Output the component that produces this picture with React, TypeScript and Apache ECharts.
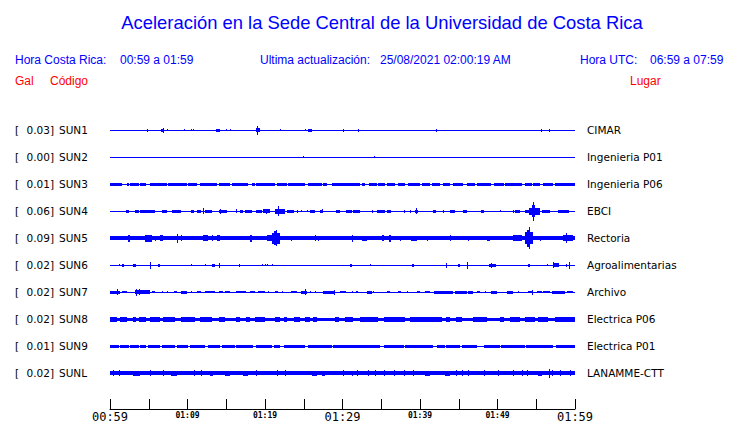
import React, { useEffect, useRef } from "react";
import * as echarts from "echarts";

// ---------- DATA ----------
const TITLE = "Aceleración en la Sede Central de la Universidad de Costa Rica";
const TICK_LABELS = ["00:59", "01:09", "01:19", "01:29", "01:39", "01:49", "01:59"]; // every 10 minutes
const TRACE_CODES = ["SUN1", "SUN2", "SUN3", "SUN4", "SUN5", "SUN6", "SUN7", "SUN8", "SUN9", "SUNL"];
const PEAK_GAL = ["0.03", "0.00", "0.01", "0.06", "0.09", "0.02", "0.02", "0.02", "0.01", "0.02"];
const PLACES = [
  "CIMAR", "Ingenieria P01", "Ingenieria P06", "EBCI", "Rectoria",
  "Agroalimentarias", "Archivo", "Electrica P06", "Electrica P01", "LANAMME-CTT",
];
// background (noise) half-amplitude of each trace, relative units
const BASE_AMP = [0.5, 0.5, 0.5, 0.5, 2.0, 0.5, 0.6, 1.6, 0.5, 2.0];

// bursts: [start minute, end minute, half-amplitude] (minutes after 00:59)
const SUN1_BURSTS = [
  [4.8, 4.8, 1.3], [6.6, 7.0, 1.5], [6.9, 6.9, 2.7], [7.4, 7.4, 1.2], [9.5, 9.5, 1.2],
  [10.4, 10.4, 1.2], [10.7, 10.7, 1.2], [13.7, 14.2, 1.5], [15.0, 15.0, 1.2], [15.5, 15.5, 1.2],
  [18.8, 19.3, 2.0], [19.0, 19.0, 4.5], [21.9, 21.9, 1.0], [25.2, 25.2, 1.2], [25.6, 26.0, 1.4],
  [30.1, 30.1, 1.5], [32.0, 32.0, 1.3], [42.1, 42.1, 1.3], [55.6, 55.6, 1.3], [56.6, 56.8, 1.5],
];
const SUN2_BURSTS = [[24.9, 24.9, 1.2], [34.0, 34.0, 1.2]];
const SUN3_BURSTS = [
  [0.0, 1.5, 1.5], [2.2, 2.4, 1.5], [2.6, 3.7, 1.5], [3.9, 4.7, 1.5], [5.2, 7.3, 1.5],
  [7.5, 9.9, 1.5], [10.1, 11.2, 1.5], [11.6, 13.8, 1.5], [14.0, 15.5, 1.5], [15.7, 17.8, 1.5],
  [18.3, 18.7, 1.5], [18.9, 21.3, 1.5], [21.5, 22.8, 1.5], [23.0, 25.2, 1.5], [25.6, 27.3, 1.5],
  [27.5, 28.0, 1.5], [28.6, 32.2, 1.5], [32.5, 32.9, 1.5], [33.4, 34.4, 1.5], [34.6, 35.5, 1.5],
  [35.7, 36.8, 1.5], [37.2, 38.1, 1.5], [38.5, 40.0, 1.5], [40.2, 41.3, 1.5], [41.5, 42.6, 1.5],
  [43.0, 43.9, 1.5], [44.3, 45.6, 1.5], [46.0, 47.1, 1.5], [47.3, 49.2, 1.5], [49.5, 50.8, 1.5],
  [51.0, 53.1, 1.5], [53.5, 54.4, 1.5], [54.6, 55.5, 1.5], [55.9, 57.2, 1.5], [57.4, 60.0, 1.5],
];
const SUN4_BURSTS = [
  [2.0, 2.5, 1.5], [3.2, 3.7, 1.5], [3.9, 5.8, 1.5], [6.7, 7.3, 1.5], [8.0, 9.2, 1.5],
  [10.5, 10.9, 1.5], [11.2, 11.8, 1.5], [12.0, 12.0, 3.0], [12.3, 13.1, 1.5], [14.0, 15.1, 1.5],
  [14.2, 14.2, 2.5], [16.3, 16.3, 2.0], [16.8, 17.2, 1.5], [17.4, 18.3, 1.5], [18.9, 19.6, 1.5],
  [19.8, 20.6, 2.0], [20.1, 20.1, 2.5], [21.3, 22.6, 2.5], [21.7, 21.7, 5.0], [22.8, 23.7, 1.5],
  [24.1, 24.3, 1.5], [24.7, 24.7, 1.2], [25.4, 25.4, 1.2], [25.8, 26.5, 1.5], [27.1, 27.5, 1.5],
  [27.3, 27.3, 2.0], [29.2, 29.7, 1.5], [30.5, 31.2, 1.5], [31.4, 32.3, 1.5], [33.8, 33.8, 1.3],
  [34.4, 35.5, 1.5], [35.7, 36.3, 1.5], [37.9, 37.9, 1.3], [38.7, 38.7, 1.3], [39.3, 39.8, 1.5],
  [39.5, 39.5, 3.0], [41.7, 42.1, 1.5], [43.0, 43.0, 1.3], [43.9, 44.5, 1.5], [45.6, 46.0, 1.5],
  [47.9, 48.2, 1.5], [50.3, 50.3, 1.2], [52.0, 52.0, 1.3], [52.2, 52.9, 1.5], [53.5, 54.2, 1.5],
  [54.0, 55.5, 3.5], [54.4, 54.9, 6.0], [54.6, 54.6, 9.5], [55.7, 56.8, 1.5], [57.8, 59.2, 1.5],
];
const SUN5_BURSTS = [
  [2.3, 2.6, 3.5], [4.5, 5.4, 3.5], [5.8, 5.8, 2.5], [6.5, 6.9, 3.0], [8.7, 8.7, 4.5],
  [9.2, 9.2, 3.0], [12.0, 12.7, 3.0], [13.1, 13.1, 3.0], [13.8, 14.2, 3.0], [18.1, 18.3, 3.5],
  [20.2, 20.9, 3.0], [20.9, 21.9, 5.5], [21.2, 21.6, 7.0], [21.4, 21.4, 8.0], [23.4, 23.4, 2.5],
  [26.5, 26.5, 3.0], [26.9, 26.9, 2.5], [31.2, 31.2, 3.5], [32.5, 33.1, 2.5], [35.1, 35.3, 3.0],
  [36.0, 36.3, 3.5], [37.4, 37.4, 2.5], [38.9, 39.6, 2.5], [40.9, 40.9, 2.5], [43.9, 43.9, 3.0],
  [46.2, 46.2, 2.5], [48.6, 49.0, 2.5], [52.0, 53.1, 3.0], [53.5, 54.6, 6.0], [53.8, 54.2, 8.5],
  [54.0, 54.0, 11.0], [55.5, 55.5, 2.5], [58.5, 59.7, 3.0], [58.9, 58.9, 5.0],
];
const SUN6_BURSTS = [
  [1.1, 1.1, 1.0], [1.5, 1.8, 1.5], [3.0, 3.3, 1.5], [5.2, 5.2, 3.5], [6.2, 6.5, 1.5],
  [10.4, 10.4, 1.2], [12.2, 12.2, 1.0], [13.1, 13.5, 1.5], [14.0, 14.0, 2.5], [16.6, 16.8, 1.5],
  [19.6, 19.6, 1.2], [20.0, 20.0, 0.8], [20.3, 20.3, 0.8], [20.9, 20.9, 1.2], [31.0, 31.2, 1.5],
  [33.5, 33.5, 1.0], [39.0, 39.2, 1.5], [43.4, 43.4, 2.5], [44.9, 45.1, 1.5], [46.1, 46.1, 3.5],
  [48.9, 49.8, 1.5], [49.2, 49.2, 2.5], [53.9, 54.2, 1.5], [56.4, 56.4, 1.0], [57.2, 57.9, 2.0],
  [57.2, 57.2, 3.0], [58.8, 58.8, 1.5], [59.2, 59.2, 3.5],
];
const SUN7_BURSTS = [
  [0.0, 1.3, 1.5], [0.9, 0.9, 3.0], [1.5, 2.2, 1.0], [3.2, 5.2, 1.8], [3.4, 3.4, 3.5],
  [3.7, 3.7, 3.0], [5.4, 5.8, 1.2], [6.7, 6.7, 1.0], [7.3, 7.3, 1.0], [8.2, 8.6, 1.0],
  [9.2, 9.9, 1.3], [10.5, 10.5, 1.0], [11.2, 11.8, 1.0], [12.3, 13.5, 1.2], [14.0, 14.6, 1.2],
  [14.8, 15.5, 1.0], [16.3, 17.6, 1.2], [18.1, 18.7, 1.2], [19.1, 20.0, 1.2], [20.4, 20.4, 1.0],
  [21.3, 21.7, 1.0], [22.2, 22.2, 1.0], [23.4, 24.1, 1.2], [24.7, 25.4, 1.5], [25.1, 25.1, 3.0],
  [25.8, 25.8, 1.0], [26.5, 26.5, 1.0], [27.5, 29.0, 1.3], [28.9, 28.9, 2.5], [29.7, 30.5, 1.2],
  [31.2, 31.4, 1.0], [31.8, 32.0, 1.0], [33.1, 33.8, 1.3], [33.9, 33.9, 1.0], [35.7, 36.1, 1.2],
  [37.2, 37.6, 1.0], [38.3, 38.3, 1.0], [39.6, 40.0, 1.0], [40.6, 41.3, 1.0], [41.8, 44.3, 1.3],
  [44.5, 46.0, 1.3], [46.2, 46.9, 1.3], [47.4, 47.8, 1.0], [48.4, 48.4, 1.0], [49.2, 49.9, 1.3],
  [51.2, 52.0, 1.3], [52.7, 52.7, 1.0], [53.9, 54.6, 1.2], [54.4, 54.4, 2.5], [55.1, 55.7, 1.0],
  [55.9, 56.8, 1.2], [57.0, 58.7, 1.3], [59.0, 59.8, 1.0],
];
const SUN8_BURSTS = [
  [0.0, 0.9, 2.6], [1.3, 2.2, 2.5], [3.0, 3.4, 2.6], [3.7, 4.7, 2.6], [5.2, 6.5, 2.6],
  [6.9, 8.4, 2.6], [9.2, 11.0, 2.6], [11.6, 13.1, 2.6], [14.0, 14.8, 2.3], [16.3, 16.8, 2.6],
  [17.6, 18.1, 2.3], [18.7, 20.0, 2.6], [21.3, 21.9, 2.3], [22.4, 22.8, 2.3], [23.7, 24.5, 2.3],
  [25.2, 25.8, 2.3], [26.2, 26.7, 2.3], [29.0, 29.5, 2.3], [30.3, 31.4, 2.3], [32.3, 34.6, 2.6],
  [35.3, 38.1, 2.6], [38.7, 42.8, 2.6], [43.4, 43.9, 2.3], [44.7, 45.4, 2.3], [46.9, 48.6, 2.3],
  [50.3, 50.9, 2.3], [51.6, 52.9, 2.3], [53.5, 54.8, 2.3], [55.2, 56.5, 2.3], [57.4, 60.0, 2.5],
];
const SUN9_BURSTS = [
  [0.0, 1.1, 1.4], [1.3, 2.4, 1.4], [2.6, 3.7, 1.4], [3.9, 4.7, 1.4], [4.9, 6.5, 1.4],
  [6.7, 8.4, 1.4], [8.6, 10.1, 1.4], [10.3, 12.3, 1.4], [12.7, 14.2, 1.4], [14.4, 16.1, 1.4],
  [16.3, 18.5, 1.4], [18.9, 20.9, 1.4], [21.1, 21.9, 1.4], [22.4, 25.2, 1.4], [25.6, 28.6, 1.4],
  [28.8, 34.8, 1.4], [35.3, 37.9, 1.4], [38.1, 41.7, 1.4], [42.2, 43.2, 1.4], [43.4, 45.2, 1.4],
  [45.4, 47.3, 1.4], [48.2, 50.3, 1.4], [50.5, 53.5, 1.4], [53.7, 57.2, 1.4], [57.6, 60.0, 1.4],
];
const SUNL_BURSTS = [
  [0.4, 0.4, 2.8], [1.1, 1.1, 2.8], [3.0, 3.9, 2.6], [5.2, 5.2, 2.8], [6.9, 6.9, 2.8],
  [7.9, 8.6, 2.6], [10.8, 10.8, 2.8], [11.8, 11.8, 2.8], [12.9, 13.3, 2.6], [14.8, 15.5, 2.6],
  [17.2, 17.8, 2.6], [18.9, 18.9, 2.8], [21.5, 21.5, 2.8], [22.6, 22.6, 2.8], [26.0, 26.7, 2.6],
  [27.3, 27.7, 2.6], [30.1, 30.1, 2.8], [31.2, 31.4, 2.6], [31.9, 31.9, 2.8], [33.3, 33.3, 2.8],
  [34.2, 34.2, 2.8], [35.3, 35.3, 2.8], [36.6, 36.6, 2.8], [37.9, 37.9, 2.8], [39.1, 39.1, 2.8],
  [40.6, 41.3, 2.6], [43.2, 43.9, 2.6], [44.7, 44.7, 2.8], [45.4, 45.4, 2.8], [46.2, 46.2, 2.8],
  [48.2, 48.2, 2.8], [50.1, 50.1, 2.8], [52.0, 52.0, 2.8], [53.1, 53.1, 2.8], [53.8, 53.8, 2.8],
  [55.2, 55.7, 2.6], [56.6, 56.6, 4.5], [57.0, 57.0, 2.8], [58.1, 58.1, 2.8], [59.4, 59.4, 2.8],
];
const BURSTS = [
  SUN1_BURSTS, SUN2_BURSTS, SUN3_BURSTS, SUN4_BURSTS, SUN5_BURSTS,
  SUN6_BURSTS, SUN7_BURSTS, SUN8_BURSTS, SUN9_BURSTS, SUNL_BURSTS,
];

// ---------- STYLE ----------
const BLUE = "#0000ff";
const RED = "#ff0000";
const HEAD_FONT = "Liberation Sans, Arial, sans-serif";
const LABEL_FONT = "DejaVu Sans, sans-serif";

export default function App() {
  const ref = useRef<HTMLDivElement>(null);

  useEffect(() => {
    if (!ref.current) return;
    const chart = echarts.init(ref.current, null, { renderer: "svg" });

    const renderItem = (params: any, api: any) => {
      const i = api.value(0);
      const [x0, cy] = api.coord([0, i]);
      const [x1] = api.coord([60, i]);
      const unitPx = api.size([0, 1])[1] / 27;
      const children: any[] = [];
      const band = (xs: number, xe: number, amp: number) => {
        const h = Math.max(1, Math.round(2 * amp * unitPx));
        const w = Math.max(1, xe - xs);
        children.push({
          type: "rect",
          shape: { x: xs, y: Math.round(cy - h / 2), width: w, height: h },
          style: { fill: BLUE },
        });
      };
      band(x0, x1, BASE_AMP[i]);
      for (const [s, e, a] of BURSTS[i]) {
        const xs = Math.round(api.coord([s, i])[0]);
        const xe = Math.round(api.coord([e, i])[0]);
        band(xs, e === s ? xs + 1 : xe, a);
      }
      const txt = (x: number, text: string, align: string) => ({
        type: "text",
        x,
        y: cy,
        style: {
          text,
          fill: "#000",
          fontSize: 10.5,
          fontFamily: LABEL_FONT,
          align,
          verticalAlign: "middle",
        },
      });
      children.push(txt(x0 - 95, "[", "left"));
      children.push(txt(x0 - 56, PEAK_GAL[i] + "]", "right"));
      children.push(txt(x0 - 51, TRACE_CODES[i], "left"));
      children.push(txt(x1 + 12, PLACES[i], "left"));
      return { type: "group", children };
    };

    const headText = (x: number, y: number, text: string, color: string, size = 12, align = "left") => ({
      type: "text",
      x,
      y,
      style: {
        text,
        fill: color,
        fontSize: size,
        fontFamily: HEAD_FONT,
        align,
        verticalAlign: "middle",
      },
    });

    chart.setOption({
      animation: false,
      backgroundColor: "#fff",
      grid: { left: 110, right: 165, top: 103, bottom: 14 },
      xAxis: {
        type: "value",
        position: "bottom",
        min: 0,
        max: 60,
        interval: 5,
        axisLine: { show: true, onZero: false, lineStyle: { color: "#000", width: 1 } },
        axisTick: { show: true, inside: true, length: 10, lineStyle: { color: "#000" } },
        splitLine: { show: false },
        axisLabel: {
          margin: 2,
          showMinLabel: true,
          showMaxLabel: true,
          formatter: (v: number) => {
            if (v % 10 !== 0) return "";
            const k = v / 10;
            const lab = TICK_LABELS[k];
            return k % 3 === 0 ? `{big|${lab}}` : `{small|${lab}}`;
          },
          rich: {
            big: { fontSize: 12, lineHeight: 12, fontFamily: "DejaVu Sans Mono, monospace", color: "#000" },
            small: {
              fontSize: 8,
              lineHeight: 8,
              fontWeight: "bold",
              fontFamily: "DejaVu Sans Mono, monospace",
              color: "#000",
              padding: [1, 0, 0, 0],
            },
          },
        },
      },
      yAxis: {
        type: "value",
        min: -1,
        max: 31 / 3,
        inverse: true,
        show: false,
      },
      graphic: [
        headText(382, 22, TITLE, BLUE, 18.4, "center"),
        headText(15, 60, "Hora Costa Rica:", BLUE),
        headText(120, 60, "00:59 a 01:59", BLUE),
        headText(260, 60, "Ultima actualización:", BLUE),
        headText(380, 60, "25/08/2021 02:00:19 AM", BLUE),
        headText(580, 60, "Hora UTC:", BLUE),
        headText(650, 60, "06:59 a 07:59", BLUE),
        headText(15, 81, "Gal", RED),
        headText(50, 81, "Código", RED),
        headText(630, 81, "Lugar", RED),
      ],
      series: [
        {
          type: "custom",
          coordinateSystem: "cartesian2d",
          clip: false,
          renderItem,
          encode: { x: -1, y: 0 },
          data: TRACE_CODES.map((_, i) => [i]),
        },
      ],
    });

    return () => chart.dispose();
  }, []);

  return <div ref={ref} style={{ width: 740, height: 423, position: "fixed", left: 0, top: 0 }} />;
}
